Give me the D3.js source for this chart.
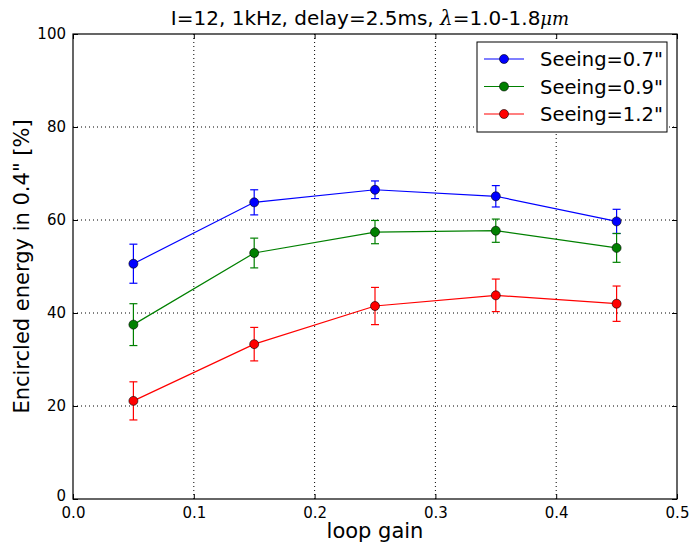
<!DOCTYPE html>
<html>
<head>
<meta charset="utf-8">
<script src="https://cdn.jsdelivr.net/npm/d3@7"></script>
<style>
  body { margin: 0; background: #fff; }
  text { font-family: "DejaVu Sans", sans-serif; fill: #000; }
</style>
</head>
<body>
<div id="chart"></div>
<script>
// loop gain values (x)
var gains = [0.05, 0.15, 0.25, 0.35, 0.45];
// encircled energy [%] and error bar half-widths, one pair per seeing
var see07 = [50.6, 63.8, 66.5, 65.1, 59.7];
var see07Err = [4.2, 2.7, 1.9, 2.3, 2.6];
var see09 = [37.5, 52.9, 57.4, 57.7, 54.0];
var see09Err = [4.5, 3.2, 2.5, 2.5, 3.1];
var see12 = [21.1, 33.3, 41.5, 43.8, 42.0];
var see12Err = [4.1, 3.6, 4.0, 3.5, 3.8];
var seriesNames = ['Seeing=0.7"', 'Seeing=0.9"', 'Seeing=1.2"'];
var seriesColors = ["#0000ff", "#008000", "#ff0000"];
var xTicks = [0.0, 0.1, 0.2, 0.3, 0.4, 0.5];
var yTicks = [0, 20, 40, 60, 80, 100];

var width = 690, height = 548;
var m = {left: 73, right: 13, top: 34, bottom: 49};

var svg = d3.select("#chart").append("svg")
    .attr("width", width)
    .attr("height", height);

var x = d3.scaleLinear().domain([0, 0.5]).range([m.left, width - m.right]);
var y = d3.scaleLinear().domain([0, 100]).range([height - m.bottom, m.top]);

// dotted grid
var grid = svg.append("g");
grid.selectAll("line.gx").data(xTicks.slice(1, -1)).enter().append("line")
    .attr("x1", d => x(d)).attr("x2", d => x(d))
    .attr("y1", y(0)).attr("y2", y(100))
    .attr("stroke", "#000").attr("stroke-width", 1).attr("stroke-dasharray", "1,3");
grid.selectAll("line.gy").data(yTicks.slice(1, -1)).enter().append("line")
    .attr("y1", d => y(d)).attr("y2", d => y(d))
    .attr("x1", x(0)).attr("x2", x(0.5))
    .attr("stroke", "#000").attr("stroke-width", 1).attr("stroke-dasharray", "1,3");

// axes, ticks inside like matplotlib classic
var xAxis = svg.append("g").attr("transform", `translate(0,${y(0)})`)
    .call(d3.axisBottom(x).tickValues(xTicks).tickFormat(d3.format(".1f")).tickSizeInner(-5).tickSizeOuter(0).tickPadding(8));
var xTop = svg.append("g").attr("transform", `translate(0,${y(100)})`)
    .call(d3.axisTop(x).tickValues(xTicks).tickFormat("").tickSizeInner(-5).tickSizeOuter(0));
var yAxis = svg.append("g").attr("transform", `translate(${x(0)},0)`)
    .call(d3.axisLeft(y).tickValues(yTicks).tickSizeInner(-5).tickSizeOuter(0).tickPadding(7));
var yRight = svg.append("g").attr("transform", `translate(${x(0.5)},0)`)
    .call(d3.axisRight(y).tickValues(yTicks).tickFormat("").tickSizeInner(-5).tickSizeOuter(0));
[xAxis, xTop, yAxis, yRight].forEach(function (a) {
    a.select(".domain").remove();
    a.selectAll("line").attr("stroke", "#000");
    a.selectAll("text").style("font-size", "15px").style("font-family", "DejaVu Sans");
});
// the "0" of the y axis sits a little high, as in the reference
yAxis.selectAll(".tick text").filter(d => d === 0).attr("dy", "0.1em");

// frame
svg.append("rect")
    .attr("x", x(0)).attr("y", y(100))
    .attr("width", x(0.5) - x(0)).attr("height", y(0) - y(100))
    .attr("fill", "none").attr("stroke", "#000").attr("stroke-width", 1.2);

// series
var series = [
    {name: seriesNames[0], color: seriesColors[0], vals: see07, errs: see07Err},
    {name: seriesNames[1], color: seriesColors[1], vals: see09, errs: see09Err},
    {name: seriesNames[2], color: seriesColors[2], vals: see12, errs: see12Err}
];

var line = d3.line().x(d => x(d.g)).y(d => y(d.v));

series.forEach(function (s) {
    var pts = gains.map((g, i) => ({g: g, v: s.vals[i], e: s.errs[i]}));
    var g = svg.append("g");
    g.append("path").datum(pts)
        .attr("d", line).attr("fill", "none")
        .attr("stroke", s.color).attr("stroke-width", 1.2);
    // error bars
    var eb = g.selectAll("g.eb").data(pts).enter().append("g")
        .attr("stroke", s.color).attr("stroke-width", 1.2);
    eb.append("line")
        .attr("x1", d => x(d.g)).attr("x2", d => x(d.g))
        .attr("y1", d => y(d.v - d.e)).attr("y2", d => y(d.v + d.e));
    eb.append("line")
        .attr("x1", d => x(d.g) - 4).attr("x2", d => x(d.g) + 4)
        .attr("y1", d => y(d.v + d.e)).attr("y2", d => y(d.v + d.e));
    eb.append("line")
        .attr("x1", d => x(d.g) - 4).attr("x2", d => x(d.g) + 4)
        .attr("y1", d => y(d.v - d.e)).attr("y2", d => y(d.v - d.e));
    g.selectAll("circle").data(pts).enter().append("circle")
        .attr("cx", d => x(d.g)).attr("cy", d => y(d.v)).attr("r", 4.5)
        .attr("fill", s.color).attr("stroke", "#000").attr("stroke-width", 0.6);
});

// legend
var leg = svg.append("g");
leg.append("rect")
    .attr("x", 477).attr("y", 42).attr("width", 190).attr("height", 90)
    .attr("fill", "#fff").attr("stroke", "#000").attr("stroke-width", 1);
series.forEach(function (s, i) {
    var ly = 59 + i * 27.5;
    leg.append("line").attr("x1", 484).attr("x2", 524).attr("y1", ly).attr("y2", ly)
        .attr("stroke", s.color).attr("stroke-width", 1.2);
    leg.append("circle").attr("cx", 504).attr("cy", ly).attr("r", 4.5)
        .attr("fill", s.color).attr("stroke", "#000").attr("stroke-width", 0.6);
    leg.append("text").attr("x", 540).attr("y", ly).attr("dy", "0.36em")
        .style("font-size", "19.5px").text(s.name);
});

// title
var title = svg.append("text")
    .attr("x", 370).attr("y", 25)
    .attr("text-anchor", "middle").style("font-size", "20px");
title.append("tspan").text("I=12, 1kHz, delay=2.5ms, ");
title.append("tspan").style("font-family", "DejaVu Serif").style("font-style", "italic").text("λ");
title.append("tspan").text("=1.0-1.8");
title.append("tspan").style("font-family", "DejaVu Serif").style("font-style", "italic").style("font-size", "18px").text("μm");

// axis labels
svg.append("text")
    .attr("x", (x(0) + x(0.5)) / 2).attr("y", 538)
    .attr("text-anchor", "middle").style("font-size", "21px").text("loop gain");
svg.append("text")
    .attr("transform", `translate(29,${(y(0) + y(100)) / 2}) rotate(-90)`)
    .attr("text-anchor", "middle").style("font-size", "21px")
    .text('Encircled energy in 0.4" [%]');
</script>
</body>
</html>
